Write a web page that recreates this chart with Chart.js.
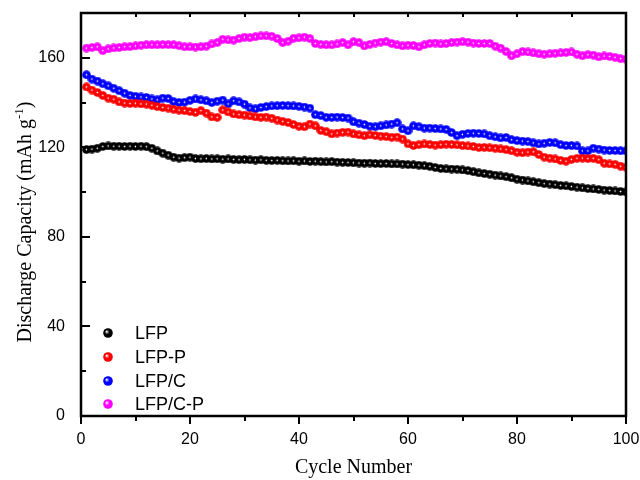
<!DOCTYPE html>
<html>
<head>
<meta charset="utf-8">
<script src="https://cdn.jsdelivr.net/npm/chart.js@4.4.0/dist/chart.umd.min.js"></script>
<style>
  html, body { margin: 0; padding: 0; background: #fff; }
  #wrap { width: 640px; height: 480px; }
</style>
</head>
<body>
<div id="wrap"><canvas id="chart" width="640" height="480"></canvas></div>
<script>
// cycle numbers (x)
const cycles = [
  1, 2, 3, 4, 5, 6, 7, 8, 9, 10, 11, 12, 13, 14, 15, 16, 17, 18, 19, 20,
  21, 22, 23, 24, 25, 26, 27, 28, 29, 30, 31, 32, 33, 34, 35, 36, 37, 38, 39, 40,
  41, 42, 43, 44, 45, 46, 47, 48, 49, 50, 51, 52, 53, 54, 55, 56, 57, 58, 59, 60,
  61, 62, 63, 64, 65, 66, 67, 68, 69, 70, 71, 72, 73, 74, 75, 76, 77, 78, 79, 80,
  81, 82, 83, 84, 85, 86, 87, 88, 89, 90, 91, 92, 93, 94, 95, 96, 97, 98, 99, 100
];

// discharge capacity, mAh/g
const lfp = [
  119.0, 119.2, 119.6, 120.4, 120.6, 120.5, 120.5, 120.4, 120.5, 120.4,
  120.5, 120.3, 119.6, 118.4, 117.4, 116.5, 115.6, 115.2, 115.4, 115.6,
  115.0, 114.9, 115.0, 114.8, 114.9, 114.7, 114.8, 114.6, 114.5, 114.6,
  114.4, 114.3, 114.4, 114.2, 114.1, 114.2, 114.0, 113.9, 114.0, 113.8,
  113.9, 113.7, 113.8, 113.6, 113.5, 113.6, 113.4, 113.3, 113.2, 113.1,
  113.0, 112.9, 113.0, 112.8, 112.7, 112.8, 112.6, 112.6, 112.5, 112.3,
  112.2, 112.0, 111.8, 111.5, 111.0, 110.6, 110.4, 110.3, 110.2, 109.9,
  109.6, 109.1, 108.6, 108.3, 108.0, 107.6, 107.2, 106.9, 106.4, 105.8,
  105.4, 105.0, 104.6, 104.2, 103.8, 103.6, 103.3, 103.0, 102.8, 102.5,
  102.2, 101.9, 101.6, 101.4, 101.2, 100.9, 100.7, 100.5, 100.3, 100.1
];
const lfpP = [
  147.0, 145.6, 144.5, 143.2, 142.0, 141.5, 140.3, 139.8, 139.6, 139.7,
  139.4, 139.3, 138.8, 138.2, 137.8, 137.5, 137.0, 136.6, 136.4, 136.0,
  135.6, 136.4, 135.3, 133.6, 133.4, 136.7, 135.8, 134.9, 134.6, 134.4,
  134.0, 133.6, 133.4, 133.5, 133.0, 132.2, 131.6, 131.1, 130.2, 129.4,
  129.2, 130.4, 129.6, 127.6, 127.0, 126.0, 126.4, 126.7, 126.8, 126.0,
  125.6, 125.2, 125.6, 125.3, 125.0, 124.8, 124.5, 124.6, 123.7, 121.6,
  120.8, 121.2, 121.5, 121.3, 121.0, 121.2, 121.4, 121.3, 121.1, 120.8,
  120.6, 120.4, 119.9, 120.0, 119.8, 119.6, 119.3, 119.0, 118.5, 117.8,
  117.6, 117.9, 118.0, 116.8, 115.6, 115.2, 114.8, 114.2, 113.8, 114.6,
  115.1, 115.2, 115.0, 115.1, 114.5, 112.9, 112.6, 112.4, 111.6, 111.1
];
const lfpC = [
  152.4, 150.5, 149.6, 148.4, 147.5, 146.4, 145.3, 144.2, 143.2, 142.8,
  142.5, 142.3, 141.6, 141.2, 142.0, 141.8, 140.4, 140.0, 140.2, 141.0,
  141.6, 141.2, 140.8, 140.0, 140.6, 141.1, 139.4, 140.8, 140.3, 139.3,
  137.6, 137.2, 137.8, 138.2, 138.5, 138.6, 138.7, 138.6, 138.5, 138.3,
  138.0, 137.5, 134.6, 134.2, 133.4, 133.4, 133.5, 133.3, 133.1, 131.4,
  130.8, 130.2, 129.4, 129.2, 129.6, 130.0, 130.4, 131.0, 128.2, 127.4,
  129.6, 129.2, 128.6, 128.6, 128.4, 128.2, 128.0, 126.6, 125.2, 125.8,
  126.2, 126.3, 126.2, 126.0, 125.2, 124.7, 124.2, 124.4, 123.4, 123.0,
  122.8, 122.6, 122.0, 121.5, 121.8, 122.2, 122.0, 121.2, 120.8, 120.8,
  120.6, 118.4, 118.4, 119.6, 119.2, 118.8, 118.6, 118.6, 118.5, 118.4
];
const lfpCP = [
  164.3, 164.6, 164.9, 163.2, 164.0, 164.4, 164.6, 164.9, 165.0, 165.3,
  165.6, 165.8, 165.8, 165.8, 165.9, 165.9, 165.8, 165.4, 164.9, 164.9,
  164.8, 164.9, 165.2, 166.2, 166.8, 168.3, 168.0, 167.9, 168.6, 169.2,
  169.0, 169.4, 169.8, 169.8, 169.6, 168.6, 166.8, 167.4, 168.7, 168.9,
  169.2, 168.6, 166.4, 166.0, 165.8, 165.8, 166.2, 166.8, 165.8, 167.2,
  166.8, 165.3, 166.0, 166.6, 167.0, 167.2, 166.4, 165.8, 165.3, 165.6,
  165.5, 164.9, 165.8, 166.4, 166.6, 166.2, 166.4, 166.8, 167.0, 167.2,
  167.0, 166.6, 166.4, 166.4, 166.4, 165.2, 164.3, 162.8, 160.9, 161.8,
  162.8, 162.6, 162.2, 161.8, 161.6, 161.8, 162.0, 162.2, 162.4, 162.6,
  161.6, 160.9, 161.4, 161.2, 160.4, 160.8, 160.6, 160.2, 159.6, 159.4
];

const seriesNames = ['LFP', 'LFP-P', 'LFP/C', 'LFP/C-P'];
const seriesColors = ['#000000', '#ff0000', '#0000ff', '#ff00ff'];
const seriesDark = ['#000000', '#e00000', '#0000e0', '#e000e0'];
const xTickLabels = [0, 20, 40, 60, 80, 100];
const yTickLabels = [0, 40, 80, 120, 160];

// little shaded ball used as the marker
function ball(color, dark, size, hx, hy, hl) {
  const c = document.createElement('canvas');
  c.width = size; c.height = size;
  const g = c.getContext('2d');
  const r = size / 2;
  const grad = g.createRadialGradient(r + hx, r + hy, 0.1, r, r, r);
  grad.addColorStop(0, '#ffffff');
  grad.addColorStop(hl, color);
  grad.addColorStop(0.8, color);
  grad.addColorStop(1, dark);
  g.fillStyle = grad;
  g.beginPath();
  g.arc(r, r, r - 0.2, 0, Math.PI * 2);
  g.fill();
  return c;
}

const markers = seriesColors.map((c, i) => ball(c, seriesDark[i], 9, 0, 0, 0.3));
const legendMarkers = seriesColors.map((c, i) => ball(c, seriesDark[i], 10, -1.5, -1.5, 0.45));

const allValues = [lfp, lfpP, lfpC, lfpCP];
const datasets = allValues.map((vals, i) => ({
  label: seriesNames[i],
  data: cycles.map((x, j) => ({ x: x, y: vals[j] })),
  showLine: false,
  pointStyle: markers[i],
  pointRadius: 4.5,
  backgroundColor: seriesColors[i],
  borderColor: seriesColors[i]
}));

const SANS = "'Liberation Sans', Arial, sans-serif";
const SERIF = "'Liberation Serif', 'Times New Roman', serif";

const decor = {
  id: 'decor',
  afterDatasetsDraw(chart) {
    const ctx = chart.ctx;
    const a = chart.chartArea;
    const xs = chart.scales.x, ys = chart.scales.y;
    ctx.save();
    ctx.strokeStyle = '#000';
    ctx.lineWidth = 2.5;
    ctx.strokeRect(a.left, a.top, a.right - a.left, a.bottom - a.top);

    ctx.lineWidth = 2;
    ctx.beginPath();
    // x ticks: outward at bottom, inward at top
    for (let v = 0; v <= 100; v += 10) {
      const px = Math.round(xs.getPixelForValue(v));
      const len = v % 20 === 0 ? 8 : 5;
      ctx.moveTo(px, a.bottom);
      ctx.lineTo(px, a.bottom + len);
      if (v > 0 && v < 100) {
        ctx.moveTo(px, a.top);
        ctx.lineTo(px, a.top + 4);
      }
    }
    // y ticks: inward on the left
    for (let v = 20; v <= 160; v += 20) {
      const py = Math.round(ys.getPixelForValue(v));
      const len = v % 40 === 0 ? 9 : 5;
      ctx.moveTo(a.left, py);
      ctx.lineTo(a.left + len, py);
    }
    ctx.stroke();

    // y axis title with superscript
    const main = 'Discharge Capacity (mAh g';
    ctx.fillStyle = '#000';
    ctx.font = '20px ' + SERIF;
    const w1 = ctx.measureText(main).width;
    ctx.font = '13px ' + SERIF;
    const w2 = ctx.measureText('-1').width;
    ctx.font = '20px ' + SERIF;
    const w3 = ctx.measureText(')').width;
    const total = w1 + w2 + w3;
    const cy = 222;
    ctx.translate(31, cy + total / 2);
    ctx.rotate(-Math.PI / 2);
    ctx.textBaseline = 'alphabetic';
    ctx.textAlign = 'left';
    ctx.fillText(main, 0, 0);
    ctx.font = '13px ' + SERIF;
    ctx.fillText('-1', w1, -8);
    ctx.font = '20px ' + SERIF;
    ctx.fillText(')', w1 + w2, 0);
    ctx.restore();

    // legend
    ctx.save();
    ctx.font = '18px ' + SANS;
    ctx.fillStyle = '#000';
    ctx.textBaseline = 'middle';
    const rows = [333, 357, 381, 404];
    seriesNames.forEach((name, i) => {
      const img = legendMarkers[i];
      ctx.drawImage(img, 108 - img.width / 2, rows[i] - img.height / 2);
      ctx.fillText(name, 135, rows[i] + 1);
    });
    ctx.restore();
  }
};

new Chart(document.getElementById('chart'), {
  type: 'scatter',
  data: { datasets: datasets },
  options: {
    responsive: false,
    animation: false,
    devicePixelRatio: 1,
    layout: { padding: { left: 0, top: 13, right: 14, bottom: 0 } },
    plugins: {
      legend: { display: false },
      tooltip: { enabled: false }
    },
    scales: {
      x: {
        type: 'linear',
        min: 0,
        max: 100,
        grid: { display: false },
        border: { display: false },
        ticks: {
          stepSize: 20,
          padding: 6,
          color: '#000',
          font: { family: SANS, size: 16 },
          callback: (v) => xTickLabels.includes(v) ? String(v) : ''
        },
        title: {
          display: true,
          text: 'Cycle Number',
          color: '#000',
          font: { family: SERIF, size: 20 },
          padding: { top: 0, bottom: 0 }
        },
        afterFit: (s) => {
          s.height = 64;
          s.paddingLeft = 0;
          s.paddingRight = 0;
        }
      },
      y: {
        type: 'linear',
        min: 0,
        max: 180,
        grid: { display: false },
        border: { display: false },
        ticks: {
          stepSize: 40,
          padding: 8,
          color: '#000',
          font: { family: SANS, size: 16 },
          callback: (v) => yTickLabels.includes(v) ? String(v) : ''
        },
        afterFit: (s) => {
          s.width = 81;
          s.paddingTop = 0;
          s.paddingBottom = 0;
        }
      }
    }
  },
  plugins: [decor]
});
</script>
</body>
</html>
